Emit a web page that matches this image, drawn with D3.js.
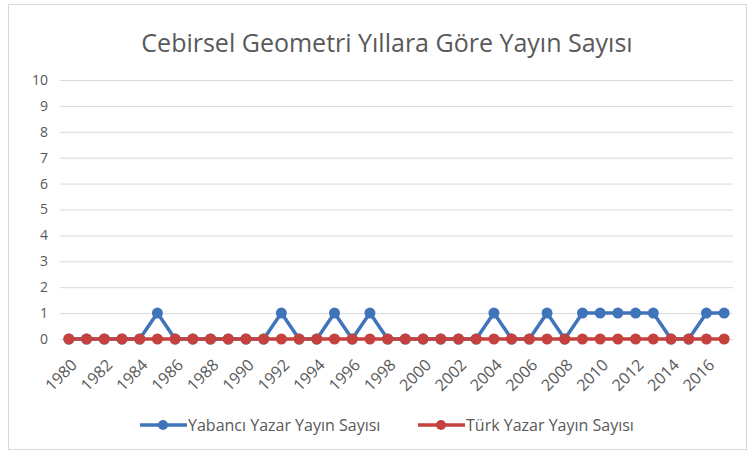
<!DOCTYPE html>
<html>
<head>
<meta charset="utf-8">
<script src="https://cdn.jsdelivr.net/npm/d3@7"></script>
<style>
  body { margin: 0; background: #fff; }
  text { font-family: "Open Sans", "Noto Sans", sans-serif; }
</style>
</head>
<body>
<div id="chart"></div>
<script>
// data
const years = d3.range(1980, 2018).map(String)
const yabanci = [0,0,0,0,0,1,0,0,0,0, 0,0,1,0,0,1,0,1,0,0, 0,0,0,0,1,0,0,1,0,1, 1,1,1,1,0,0,1,1]
const turk = years.map(() => 0)
const yTicks = d3.range(0, 11)
const seriesNames = ["Yabancı Yazar Yayın Sayısı", "Türk Yazar Yayın Sayısı"]
const colors = ["#3F74BA", "#C4413E"]

var W = 753, H = 455
var margin = {top: 80, right: 20, bottom: 116, left: 60}
var width = 733 - margin.left,
    height = 339 - margin.top

var svg = d3.select("#chart").append("svg")
    .attr("width", W).attr("height", H)

// frame
svg.append("rect")
    .attr("x", 8.5).attr("y", 4.5)
    .attr("width", 738).attr("height", 445)
    .attr("fill", "none").attr("stroke", "#d9d9d9")

svg.append("text")
    .attr("x", 387).attr("y", 52)
    .attr("text-anchor", "middle")
    .attr("font-size", "25px")
    .attr("fill", "#595959")
    .text("Cebirsel Geometri Yıllara Göre Yayın Sayısı")

var g = svg.append("g").attr("transform", "translate(" + margin.left + "," + margin.top + ")")

var x = d3.scaleBand().domain(years).range([0, width])
var y = d3.scaleLinear().domain([0, 10]).range([height, 0])

// gridlines
g.selectAll(".grid").data(yTicks).enter().append("line")
    .attr("x1", 0).attr("x2", width)
    .attr("y1", d => y(d) + 0.5).attr("y2", d => y(d) + 0.5)
    .attr("stroke", "#d9d9d9")

// y axis labels
var yAxis = g.append("g").call(d3.axisLeft(y).tickValues(yTicks).tickSize(0).tickPadding(12))
yAxis.select(".domain").remove()
yAxis.selectAll("text").attr("font-size", "14px").attr("fill", "#595959")
    .style("font-family", "'Open Sans', sans-serif")

// x axis labels
var xAxis = g.append("g").attr("transform", "translate(0," + height + ")")
    .call(d3.axisBottom(x).tickValues(years.filter((d, i) => i % 2 == 0)).tickSize(0))
xAxis.select(".domain").remove()
xAxis.selectAll("text")
    .attr("font-size", "16px").attr("fill", "#595959")
    .style("font-family", "'Open Sans', sans-serif")
    .attr("text-anchor", "end")
    .attr("dy", "0.35em")
    .attr("transform", "translate(3,21) rotate(-45)")

var line = d3.line().x((d, i) => x(years[i]) + x.bandwidth() / 2).y(d => y(d))

;[yabanci, turk].forEach(function (vals, k) {
    g.append("path").datum(vals)
        .attr("d", line)
        .attr("fill", "none")
        .attr("stroke", colors[k])
        .attr("stroke-width", 3.5)
        .attr("stroke-linejoin", "round")
    g.selectAll(".pt" + k).data(vals).enter().append("circle")
        .attr("cx", (d, i) => x(years[i]) + x.bandwidth() / 2)
        .attr("cy", d => y(d))
        .attr("r", 5.5)
        .attr("fill", colors[k])
})

// legend
var legendX = [140, 418]
seriesNames.forEach(function (name, k) {
    var lg = svg.append("g").attr("transform", "translate(" + legendX[k] + ",425)")
    lg.append("line").attr("x1", 0).attr("x2", 47).attr("y1", 0).attr("y2", 0)
        .attr("stroke", colors[k]).attr("stroke-width", 3.5)
    lg.append("circle").attr("cx", 23).attr("cy", 0).attr("r", 5).attr("fill", colors[k])
    lg.append("text").attr("x", 48).attr("y", 0).attr("dy", "0.35em")
        .attr("font-size", "16px").attr("fill", "#595959").text(name)
})
</script>
</body>
</html>
